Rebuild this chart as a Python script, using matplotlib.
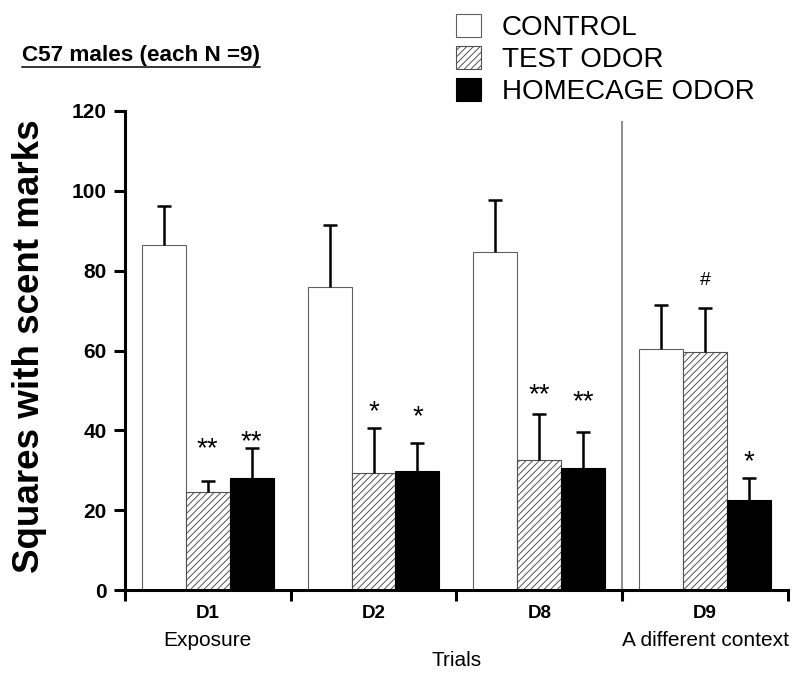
import matplotlib
matplotlib.use("Agg")
import matplotlib.pyplot as plt
import numpy as np
from matplotlib.lines import Line2D

plt.rcParams["font.family"] = ["Liberation Sans", "DejaVu Sans"]
plt.rcParams["hatch.linewidth"] = 0.7

# donnees
groups = ["D1", "D2", "D8", "D9"]
sublabels = ["Exposure", "", "", "A different context"]
series = ["CONTROL", "TEST ODOR", "HOMECAGE ODOR"]
control = [86.5, 75.8, 84.7, 60.5]
control_err = [9.6, 15.5, 13.0, 11.0]
test = [24.6, 29.4, 32.7, 59.6]
test_err = [2.7, 11.3, 11.5, 11.0]
home = [28.2, 29.8, 30.7, 22.5]
home_err = [7.3, 7.0, 8.9, 5.5]
# marques de significativite (hauteur du centre du signe)
test_sig = ["**", "*", "**", "#"]
test_sig_y = [37.0, 46.4, 50.5, 78.2]
home_sig = ["**", "*", "**", "*"]
home_sig_y = [38.8, 45.0, 48.9, 33.8]

fig = plt.figure(figsize=(8, 6.76), dpi=100)
ax = fig.add_axes([0.156, 0.127, 0.829, 0.709])

x = np.arange(len(groups)) + 0.5
w = 0.265
styles = [
    dict(facecolor="white", edgecolor="#606060", linewidth=0.8),
    dict(facecolor="white", edgecolor="#505050", hatch="/////", linewidth=0.8),
    dict(facecolor="black", edgecolor="black", linewidth=0.8),
]

for i, (vals, errs, name, st) in enumerate(
    zip([control, test, home], [control_err, test_err, home_err], series, styles)
):
    xs = x + (i - 1) * w
    ax.bar(xs, vals, w, label=name, zorder=2, **st)
    eb = ax.errorbar(xs, vals, yerr=[np.zeros(len(errs)), errs], fmt="none",
                     ecolor="black", elinewidth=1.8, capsize=5, capthick=1.8, zorder=3)
    # pas de trait en bas, seulement le haut de l'erreur
    for cap in eb[1]:
        if np.allclose(cap.get_ydata(), vals):
            cap.set_visible(False)

# etoiles au dessus des barres
for xs, marks, ys in [(x, test_sig, test_sig_y), (x + w, home_sig, home_sig_y)]:
    for xi, m, yi in zip(xs, marks, ys):
        if m == "#":
            fs, off = 14, -5
        else:
            fs, off = 20, -10
        ax.annotate(m, (xi, yi), xytext=(0, off), textcoords="offset points",
                    ha="center", va="baseline", fontsize=fs)

# separation avant D9
ax.vlines(3, 0, 117.5, color="#707070", linewidth=1.1, zorder=1)

ax.set_xlim(0, 4)
ax.set_ylim(0, 120)
for s in ["top", "right"]:
    ax.spines[s].set_visible(False)
for s in ["left", "bottom"]:
    ax.spines[s].set_linewidth(2.2)

yt = list(range(0, 121, 20))
ax.set_yticks(yt, labels=[str(v) for v in yt], fontsize=15, fontweight="bold")
ax.tick_params(axis="y", direction="out", length=8, width=2.2, pad=5)

ax.set_xticks(x, labels=groups, fontsize=13.5, fontweight="bold")
ax.set_xticks(np.arange(len(groups) + 1), minor=True)
ax.tick_params(axis="x", which="major", length=0, pad=10.7)
ax.tick_params(axis="x", which="minor", direction="out", length=8, width=2.2)

for xi, s in zip(x, sublabels):
    if s:
        ax.annotate(s, (xi, 0), xycoords=("data", "axes fraction"), xytext=(0, -36),
                    textcoords="offset points", ha="center", va="center", fontsize=15)
ax.annotate("Trials", (0.5, 0), xycoords="axes fraction", xytext=(0, -51),
            textcoords="offset points", ha="center", va="center", fontsize=15)

ax.set_ylabel("Squares with scent marks", fontsize=26.5, fontweight="bold")
ax.yaxis.set_label_coords(-0.118, 0.51)

fig.legend(loc="upper left", bbox_to_anchor=(0.57, 0.98), frameon=False,
           fontsize=20, handlelength=0.9, handleheight=0.9, handletextpad=0.75,
           labelspacing=0.18, borderpad=0, borderaxespad=0)

titre = fig.text(22 / 800, 1 - 55 / 676, "C57 males (each N =9)", fontsize=16.2,
                 fontweight="bold", va="center")
fig.canvas.draw()
bb = titre.get_window_extent(fig.canvas.get_renderer())
yl = 1 - 67 / 676
fig.add_artist(Line2D([bb.x0 / 800, bb.x1 / 800], [yl, yl], color="black", linewidth=1.1))

fig.savefig("out.png", dpi=100)
